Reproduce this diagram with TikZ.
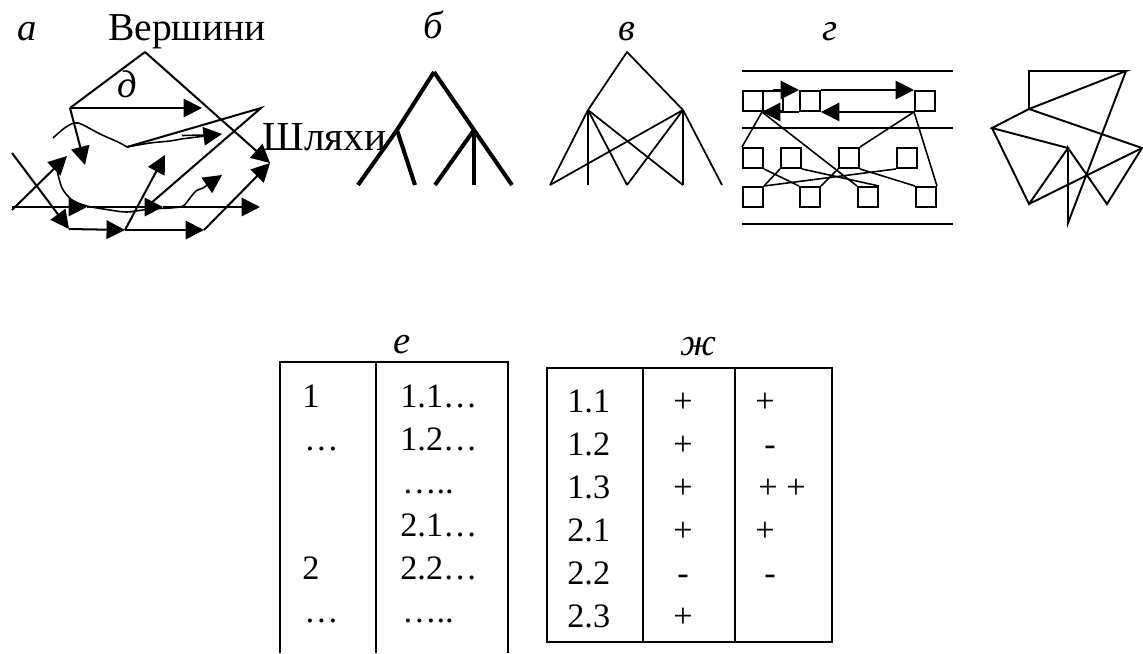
\documentclass[tikz,border=0pt]{standalone}
\usepackage{fontspec}
\setmainfont{Liberation Serif}
\usetikzlibrary{arrows.meta}
\usetikzlibrary{calc,positioning}

\tikzset{
  arr/.style={-{Triangle[length=10.5pt,width=10.5pt]}},
  sq/.style={draw, minimum size=11.4pt, inner sep=0pt, anchor=north west},
  lbl/.style={anchor=base, inner sep=0pt, font=\fontsize{22}{26}\selectfont\itshape},
  txt/.style={anchor=base west, inner sep=0pt, font=\fontsize{19.5}{23}\selectfont},
  sgn/.style={anchor=base, inner sep=0pt, font=\fontsize{19.5}{23}\selectfont},
}

\begin{document}
\begin{tikzpicture}[x=0.02cm,y=-0.02cm]
    \useasboundingbox (0,0) rectangle (1143,653);

    % labels
    \node[lbl] (la) at (27,40) {а};
    \node[lbl] (lb) at (433,38) {б};
    \node[lbl] (lv) at (627,40) {в};
    \node[lbl] (lg) at (830,40) {г};
    \node[lbl] (ld) at (127,97) {д};
    \node[lbl] (le) at (402,353) {е};
    \node[lbl] (lz) at (698,355) {ж};
    \node[anchor=base, inner sep=0pt, font=\fontsize{22.5}{26}\selectfont] (vert) at (187,40) {Вершини};
    \node[anchor=base west, inner sep=0pt, font=\fontsize{23.5}{27}\selectfont] (shl) at (262,150) {Шляхи};

    % a
    \begin{scope}[line width=1.15pt]
        \coordinate (p0) at (145,52);
        \coordinate (p1) at (70,108);
        \coordinate (p2) at (202,108);
        \coordinate (p3) at (85,165);
        \coordinate (st) at (270,163);
        \coordinate (q0) at (12,153);
        \coordinate (q1) at (69,229);
        \coordinate (q2) at (125,230);
        \coordinate (q3) at (204,230);
        \coordinate (q4) at (165,155);
        \coordinate (r0) at (12,210);
        \coordinate (r1) at (67,156);
        \coordinate (h0) at (12,207);
        \coordinate (h1) at (87,207);
        \coordinate (h2) at (163,207);
        \coordinate (h3) at (260,207);
        \coordinate (k0) at (127,147);
        \coordinate (k1) at (261,108);
        \coordinate (k2) at (150,204);
        \draw (p0) -- (p1);
        \draw[arr] (p0) -- (st);
        \draw[arr] (p1) -- (p2);
        \draw[arr] (p1) -- (p3);
        \draw[arr] (q0) -- (q1);
        \draw[arr] (q1) -- (q2);
        \draw[arr] (q2) -- (q3);
        \draw[arr] (q3) -- (st);
        \draw[arr] (q2) -- (q4);
        \draw[arr] (r0) -- (r1);
        \draw[arr] (h0) -- (h1);
        \draw[arr] (h1) -- (h2);
        \draw[arr] (h2) -- (h3);
        \draw (k0) -- (k1) -- (k2);
    \end{scope}
    \begin{scope}[line width=0.9pt]
        \draw plot[smooth] coordinates {(53,138) (66,127) (78,123) (100,134) (118,142) (127,147)};
        \draw plot[smooth] coordinates {(127,147) (150,143) (170,141) (181,139)};
        \draw (182,135.5) -- (205,135);
        \draw[arr] (181,139) -- (222,134);
        \draw plot[smooth] coordinates {(57,170) (62,188) (72,200) (87,206) (110,210) (127,212) (150,209) (170,208) (183,206) (190,198) (196,191) (203,188)};
        \draw[arr] (203,188) -- (222,175);
    \end{scope}

    % b
    \begin{scope}[line width=2.3pt]
        \coordinate (b0) at (434,72);
        \coordinate (b1) at (397,130);
        \coordinate (b2) at (474,130);
        \draw (b0) -- (b1) -- (358,185);
        \draw (b1) -- (415,185);
        \draw (b0) -- (b2) -- (512,185);
        \draw (b2) -- (435,185);
        \draw (b2) -- (474,185);
    \end{scope}

    % v
    \begin{scope}[line width=1pt]
        \coordinate (v0) at (627,52);
        \coordinate (v1) at (588,110);
        \coordinate (v2) at (683,110);
        \draw (v1) -- (v0) -- (v2);
        \foreach \x in {550,588,627,683} \draw (v1) -- (\x,185);
        \foreach \x in {550,627,683,722} \draw (v2) -- (\x,185);
    \end{scope}

    % g
    \begin{scope}[line width=1.1pt]
        \draw (742,71) -- (953,71);
        \draw (742,128) -- (953,128);
        \draw (742,224) -- (953,224);
        \node[sq] (t1) at (742,90) {};
        \node[sq] (t2) at (762,90) {};
        \node[sq] (t3) at (799,90) {};
        \node[sq] (t4) at (914,90) {};
        \node[sq] (m1) at (742,147) {};
        \node[sq] (m2) at (780,147) {};
        \node[sq] (m3) at (838,147) {};
        \node[sq] (m4) at (896,147) {};
        \node[sq] (n1) at (742,186) {};
        \node[sq] (n2) at (799,186) {};
        \node[sq] (n3) at (857,186) {};
        \node[sq] (n4) at (915,186) {};
        \draw[arr] (t2.north) -- (t3.north west);
        \draw[arr] (t3.north east) -- (t4.north west);
        \draw[arr] (t4.south west) -- (t3.south east);
        \draw[arr] (t3.south west) -- (t2.south west);
    \end{scope}
    \begin{scope}[line width=0.9pt]
        \draw (t2.south west) -- (m1.north west);
        \draw (t2.south west) -- (n3.north west);
        \draw (t4.south west) -- (m3.north east);
        \draw (t4.south west) -- (n4.north east);
        \draw (m1.south east) -- (n2.north west);
        \draw (m2.south west) -- (n1.north east);
        \draw (m2.south east) -- (n3.north east);
        \draw (m3.south west) -- (n2.north east);
        \draw (m3.south east) -- (n4.north west);
        \draw (m4.south west) -- (n1.north east);
    \end{scope}

    % last graph
    \begin{scope}[line width=1.1pt]
        \coordinate (A) at (1029,71);
        \coordinate (B) at (1126,71);
        \coordinate (C) at (1029,109);
        \coordinate (D) at (992,128);
        \coordinate (E) at (1068,148);
        \coordinate (F) at (1142,148);
        \coordinate (G) at (1029,204);
        \coordinate (H) at (1068,223);
        \coordinate (I) at (1107,204);
        \draw (C) -- (A) -- (B) -- (C) -- (D) -- (E) -- (G) -- (D);
        \draw (C) -- (F) -- (I) -- (E) -- (H) -- (B);
        \draw (G) -- (F);
    \end{scope}

    % e
    \begin{scope}[line width=1pt]
        \draw (280,653) |- (508,362) -- (508,653);
        \draw (376,362) -- (376,653);
    \end{scope}
    \node[txt] (e1) at (302,407) {1};
    \node[txt] (e2) at (304,450) {…};
    \node[txt] (e5) at (302,579) {2};
    \node[txt] (e6) at (304,622) {…};
    \node[txt] (f1) at (400,407) {1.1…};
    \node[txt] (f2) at (400,450) {1.2…};
    \node[txt] (f3) at (402,493) {…..};
    \node[txt] (f4) at (400,536) {2.1…};
    \node[txt] (f5) at (400,579) {2.2…};
    \node[txt] (f6) at (402,622) {…..};

    % zh
    \begin{scope}[line width=1pt]
        \draw (547,368) rectangle (832,642);
        \draw (643,368) -- (643,642);
        \draw (735,368) -- (735,642);
    \end{scope}
    \foreach \r/\y/\s in {1.1/412/+, 1.2/455/+, 1.3/498/+, 2.1/541/+, 2.2/584/-, 2.3/627/+}{
        \node[txt] at (567,\y) {\r};
        \node[sgn] at (683,\y) {\s};
    }
    \node[sgn] (z1) at (765,412) {+};
    \node[sgn] (z2) at (770,455) {-};
    \node[sgn] (z3) at (782,498) {+ +};
    \node[sgn] (z4) at (765,541) {+};
    \node[sgn] (z5) at (770,584) {-};
\end{tikzpicture}
\end{document}
